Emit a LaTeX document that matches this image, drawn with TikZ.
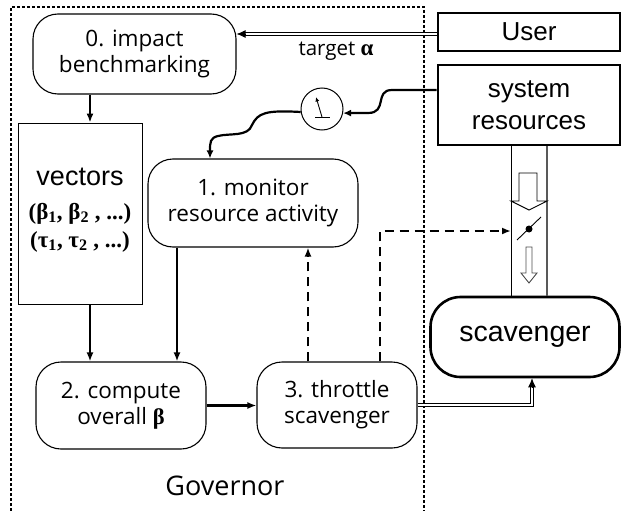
\documentclass[tikz,border=0pt]{standalone}
\usepackage{fontspec}
\setmainfont{Open Sans}
\newfontfamily\arialf{Liberation Sans}
\newfontfamily\tnrf{Liberation Serif}
\usetikzlibrary{arrows.meta,calc}
\begin{document}
\begin{tikzpicture}[x=1pt,y=-1pt,
  rbox/.style={draw, line width=1.1pt, rounded corners=25pt, inner sep=0pt, align=center, font=\fontsize{22.5}{26}\selectfont},
  sqbox/.style={draw, line width=2.6pt, inner sep=0pt, align=center, font=\arialf\fontsize{26}{32}\selectfont},
  arr/.style={line width=2.3pt, -{Latex[length=9pt,width=7pt]}},
  dsh/.style={arr, line width=2.6pt, dash pattern=on 9pt off 6pt},
  dbl/.style={double, double distance=1.8pt, line width=0.9pt},
  tipst/.style={line width=0.9pt, -{Latex[length=9pt,width=8pt]}},
  wavy/.style={line width=2.2pt, -{Latex[length=8pt,width=7pt]}},
  frame/.style={line width=2.6pt, dash pattern=on 2.6pt off 2.4pt},
  thin/.style={line width=0.9pt}
]
\useasboundingbox (0,0) rectangle (621,511);
% governor frame
\draw[frame] (11,511) -- (11,7) -- (424,7) -- (424,511);

% nodes
\node[rbox, minimum width=203pt, minimum height=80pt] (b0) at (134.5,54) {0. impact\\benchmarking};
\node[draw, line width=0.9pt, minimum width=124pt, minimum height=181pt, inner sep=0pt] (vec) at (80,213.5) {};
\node[anchor=base, font=\arialf\fontsize{27}{30}\selectfont] (vt1) at (80,185) {vectors};
\node[anchor=base, font=\tnrf\bfseries\fontsize{23}{26}\selectfont] (vt2) at (80,219) {(β\textsubscript{1}, β\textsubscript{2} , ...)};
\node[anchor=base, font=\tnrf\bfseries\fontsize{23}{26}\selectfont] (vt3) at (80,247) {(τ\textsubscript{1}, τ\textsubscript{2} , ...)};
\node[rbox, minimum width=210pt, minimum height=88pt] (b1) at (253,203) {1. monitor\\resource activity};
\node[rbox, minimum width=170pt, minimum height=87pt] (b2) at (121,405.5) {2. compute\\overall {\tnrf\bfseries β}};
\node[rbox, minimum width=160pt, minimum height=86pt] (b3) at (337,405) {3. throttle\\scavenger};
\node[sqbox, minimum width=182pt, minimum height=38pt] (user) at (529,32) {User};
\node[sqbox, minimum width=182pt, minimum height=80pt] (sys) at (529,105) {system\\resources};
\node[draw, line width=2.6pt, rounded corners=30pt, minimum width=189pt, minimum height=80pt, inner sep=0pt, font=\arialf\fontsize{28.5}{32}\selectfont] (scav) at (525,337) {scavenger};
\node[circle, draw, line width=1pt, minimum size=42pt, inner sep=0pt] (meter) at (322,109) {};
\node[font=\fontsize{27}{30}\selectfont] (gov) at (225,486) {Governor};
\node[font=\fontsize{20.5}{24}\selectfont] (tgt) at (336,51) {target {\tnrf\bfseries\fontsize{23}{24}\selectfont α}};

% meter icon
\draw[thin] (315,117) -- (330,117);
\draw[thin, -{Latex[length=4.5pt,width=4pt]}] (322,117) -- (316,97);

% pipe
\draw[line width=1pt] (sys.south -| 511,0) -- (scav.north -| 511,0);
\draw[line width=1.2pt, draw=black!65] (sys.south -| 547,0) -- (scav.north -| 547,0);
\draw[thin, fill=white] (519,173) -- (537,173) -- (537,201) -- (547,201) -- (529,210) -- (511,201) -- (519,201) -- cycle;
\draw[thin, draw=black!70] (526,247) -- (532,247) -- (532,273) -- (537,273) -- (529,283) -- (521,273) -- (526,273) -- cycle;
\fill (529,229) circle (3.5pt);
\draw[thin] (517,240) -- (541,217);
\coordinate (valve) at (511,231);

% connectors
\draw[arr] (b0.south -| 90,0) -- (vec.north -| 90,0);
\draw[arr] (vec.south -| 90,0) -- (b2.north -| 90,0);
\draw[arr] (b1.south -| 177,0) -- (b2.north -| 177,0);
\draw[arr] (b2.east) -- (b2.east -| b3.west);
\draw[dsh] (b3.north -| 308,0) -- (b1.south -| 308,0);
\draw[dsh] (b3.north -| 380,0) |- (valve);

\draw[dbl, shorten >=8pt] (user.west |- 0,34) -- (b0.east |- 0,34);
\draw[tipst] ($(b0.east |- 0,34)+(9,0)$) -- (b0.east |- 0,34);
\draw[dbl, shorten >=8pt] (b3.east) -| (scav.south -| 532,0);
\draw[tipst] ($(scav.south -| 532,0)+(0,9)$) -- (scav.south -| 532,0);

\draw[wavy] (sys.west |- 0,90) -- (392,90) .. controls (374,90) and (388,113) .. (368,113) -- (meter.-11);
\draw[wavy] (meter.188) .. controls (265,110) and (258,113) .. (252,125) .. controls (248,137) and (230,133) .. (218,136) .. controls (210,138) and (210,142) .. (b1.north -| 210,0);
\end{tikzpicture}
\end{document}
